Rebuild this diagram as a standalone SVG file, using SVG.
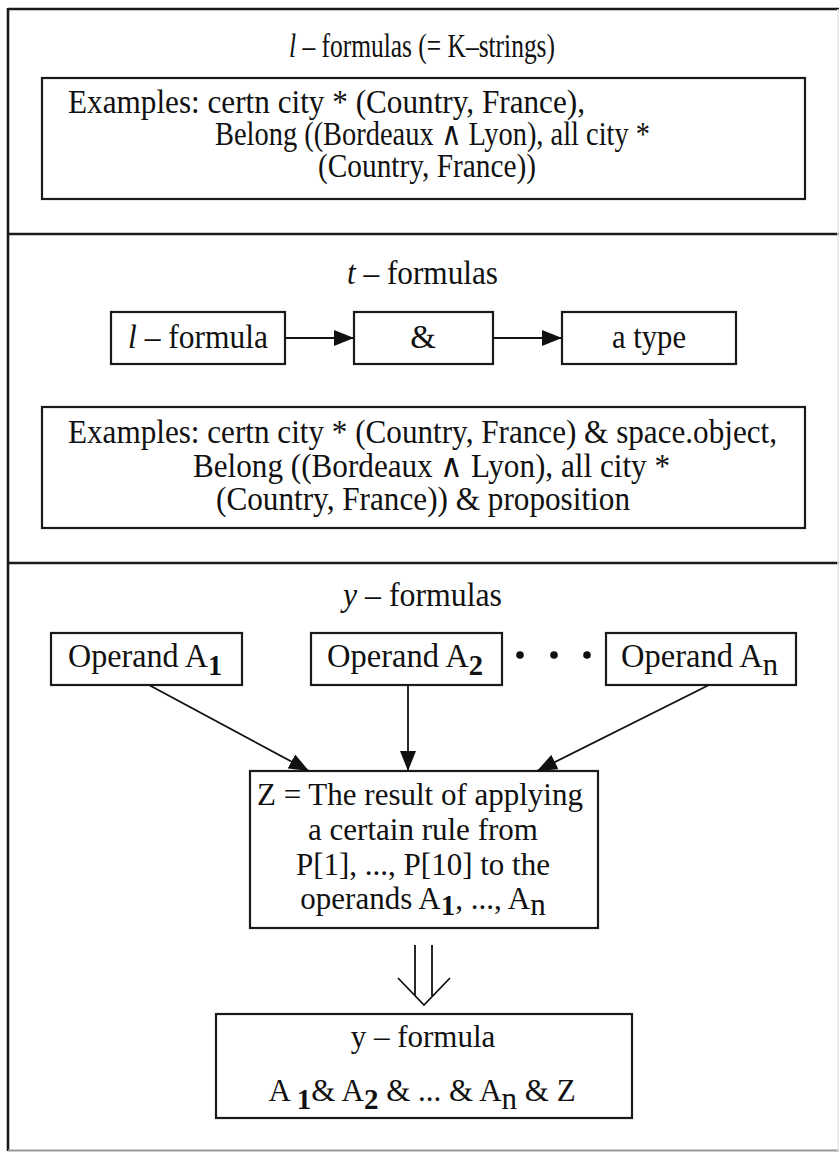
<svg xmlns="http://www.w3.org/2000/svg" width="839" height="1152" viewBox="0 0 839 1152">
<style>
text{font-family:"Liberation Serif","Times New Roman",serif;font-size:31px;fill:#111}
.u{font-size:33px}
.c{text-anchor:middle}
.box{fill:#fff;stroke:#1a1a1a;stroke-width:2.2}
.frame{fill:none;stroke:#1a1a1a;stroke-width:2.6}
.conn{stroke:#111;stroke-width:1.8;fill:none}
.it{font-style:italic}
.sb{font-weight:bold;font-size:29px}
.sn{font-size:31px}
</style>
<defs>
<marker id="ah" viewBox="0 0 20 16" refX="20" refY="8" markerWidth="20" markerHeight="16" markerUnits="userSpaceOnUse" orient="auto">
<path d="M0,0 L20,8 L0,16 Z" fill="#111"/>
</marker>
</defs>
<rect width="839" height="1152" fill="#fff"/>
<g id="frame">
<line class="frame" x1="8" y1="9" x2="839" y2="9"/>
<line class="frame" x1="8" y1="8" x2="8" y2="1151"/>
<line class="frame" x1="8" y1="234" x2="839" y2="234"/>
<line class="frame" x1="8" y1="563" x2="839" y2="563"/>
<line x1="8" y1="1150.5" x2="839" y2="1150.5" stroke="#999" stroke-width="2"/>
<line x1="838" y1="9" x2="838" y2="1151" stroke="#e6e6e6" stroke-width="1.5"/>
</g>
<g id="title-l"><text class="u" x="289" y="57" textLength="266" lengthAdjust="spacingAndGlyphs"><tspan class="it">l</tspan> – formulas (= K–strings)</text></g>
<g id="examples-l">
<rect class="box" x="42" y="78" width="763" height="121"/>
<text class="u" x="68" y="113" textLength="517" lengthAdjust="spacingAndGlyphs">Examples: certn city * (Country, France),</text>
<text class="u" x="215" y="145" textLength="435" lengthAdjust="spacingAndGlyphs">Belong ((Bordeaux ∧ Lyon), all city *</text>
<text class="u" x="318" y="177" textLength="218" lengthAdjust="spacingAndGlyphs">(Country, France))</text>
</g>
<g id="title-t"><text class="u" x="347" y="284" textLength="151" lengthAdjust="spacingAndGlyphs"><tspan class="it">t</tspan> – formulas</text></g>
<g id="node-lformula"><rect class="box" x="111" y="312" width="174" height="52"/><text class="u" x="128" y="348" textLength="140" lengthAdjust="spacingAndGlyphs"><tspan class="it">l</tspan> – formula</text></g>
<g id="node-amp"><rect class="box" x="354" y="312" width="139" height="52"/><text class="u c" x="423" y="348">&amp;</text></g>
<g id="node-atype"><rect class="box" x="562" y="312" width="174" height="52"/><text class="u" x="612" y="348" textLength="74" lengthAdjust="spacingAndGlyphs">a type</text></g>
<g id="examples-t">
<rect class="box" x="42" y="407" width="763" height="121"/>
<text class="u" x="68" y="443" textLength="709" lengthAdjust="spacingAndGlyphs">Examples: certn city * (Country, France) &amp; space.object,</text>
<text class="u" x="193" y="477" textLength="477" lengthAdjust="spacingAndGlyphs">Belong ((Bordeaux ∧ Lyon), all city *</text>
<text class="u" x="216" y="510" textLength="414" lengthAdjust="spacingAndGlyphs">(Country, France)) &amp; proposition</text>
</g>
<g id="title-y"><text class="u" x="343" y="606" textLength="159" lengthAdjust="spacingAndGlyphs"><tspan class="it">y</tspan> – formulas</text></g>
<g id="node-a1"><rect class="box" x="51" y="633" width="191" height="52"/><text class="u" x="68" y="667" textLength="154" lengthAdjust="spacingAndGlyphs">Operand A<tspan class="sb" dy="8">1</tspan></text></g>
<g id="node-a2"><rect class="box" x="311" y="633" width="191" height="52"/><text class="u" x="327" y="667" textLength="156" lengthAdjust="spacingAndGlyphs">Operand A<tspan class="sb" dy="8">2</tspan></text></g>
<g id="dots"><circle cx="520" cy="655" r="3.8" fill="#111"/><circle cx="554" cy="655" r="3.8" fill="#111"/><circle cx="587" cy="655" r="3.8" fill="#111"/></g>
<g id="node-an"><rect class="box" x="606" y="633" width="190" height="52"/><text class="u" x="621" y="667" textLength="157" lengthAdjust="spacingAndGlyphs">Operand A<tspan class="sn" dy="8">n</tspan></text></g>
<g id="node-z">
<rect class="box" x="250" y="771" width="348" height="157"/>
<text class="c" x="420" y="805">Z = The result of applying</text>
<text class="c" x="423" y="840">a certain rule from</text>
<text class="c" x="423" y="875">P[1], ..., P[10] to the</text>
<text class="c" x="423" y="909">operands A<tspan class="sb" dy="6">1</tspan><tspan dy="-6">, ..., A</tspan><tspan dy="6">n</tspan></text>
</g>
<g id="node-yformula">
<rect class="box" x="216" y="1014" width="416" height="104"/>
<text class="c" x="423" y="1047">y – formula</text>
<text class="c" x="422" y="1101">A <tspan class="sb" dy="8">1</tspan><tspan dy="-8">&amp; A</tspan><tspan class="sb" dy="8">2</tspan><tspan dy="-8"> &amp; ... &amp; A</tspan><tspan dy="8">n</tspan><tspan dy="-8"> &amp; Z</tspan></text>
</g>
<g id="connectors">
<line class="conn" x1="149" y1="685" x2="309" y2="771" marker-end="url(#ah)"/>
<line class="conn" x1="408" y1="685" x2="408" y2="771" marker-end="url(#ah)"/>
<line class="conn" x1="709" y1="685" x2="537" y2="771" marker-end="url(#ah)"/>
<line class="conn" x1="285" y1="338" x2="354" y2="338" marker-end="url(#ah)"/>
<line class="conn" x1="493" y1="338" x2="562" y2="338" marker-end="url(#ah)"/>
<path class="conn" d="M415,945 V996 M432,945 V996 M398,978 L424,1005 L450,978"/>
</g>
</svg>
